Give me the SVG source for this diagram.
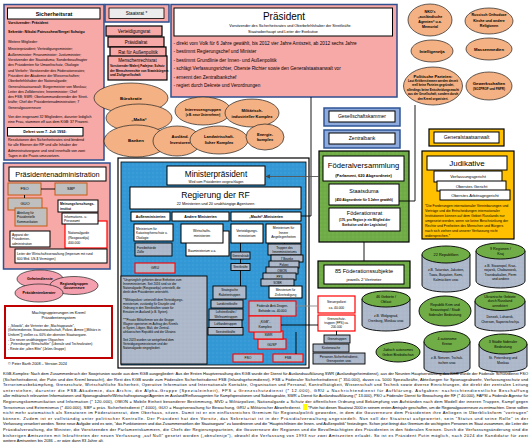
<svg xmlns="http://www.w3.org/2000/svg" width="532" height="445" viewBox="0 0 532 445">
<defs>
<pattern id="pBlue" width="4" height="4" patternUnits="userSpaceOnUse"><rect width="4" height="4" fill="#3399d6"/><circle cx="1" cy="1" r="0.45" fill="#70bbea"/><circle cx="3" cy="3" r="0.4" fill="#2a86c2"/></pattern>
<pattern id="pGreen" width="4" height="4" patternUnits="userSpaceOnUse"><rect width="4" height="4" fill="#70ad47"/><circle cx="1" cy="1" r="0.45" fill="#92c870"/><circle cx="3" cy="3" r="0.4" fill="#5c9638"/></pattern>
<pattern id="pGray" width="4" height="4" patternUnits="userSpaceOnUse"><rect width="4" height="4" fill="#adb9ca"/><circle cx="1" cy="1" r="0.4" fill="#c9d1de"/><circle cx="3" cy="3" r="0.35" fill="#95a2b6"/></pattern>
<marker id="arr" viewBox="0 0 6 6" refX="5.5" refY="3" markerWidth="5" markerHeight="5" orient="auto"><path d="M0,0 L6,3 L0,6 z" fill="#444"/></marker>
</defs>
<style>
text{font-family:"Liberation Sans",Arial,sans-serif;fill:#000}
.c{text-anchor:middle}
.b{font-weight:bold}
.pk{fill:#f7a9a8;stroke:#2f4f8f;stroke-width:1.5}
.pb{fill:#f7a9a8;stroke:#000;stroke-width:1.2}
.w{fill:#fff;stroke:#000;stroke-width:1}
.ov{fill:#f4b183;stroke:#222;stroke-width:0.7}
.po{fill:#f4a0ae;stroke:#222;stroke-width:0.7}
.g{fill:url(#pGray);stroke:#000;stroke-width:0.9}
.r{fill:url(#pGray);stroke:#f00;stroke-width:1.1}
.rw{fill:#fff;stroke:#f00;stroke-width:1.2}
.gr{fill:url(#pGreen);stroke:#000;stroke-width:1.2}
.bl{fill:#8faadc;stroke:#2f5597;stroke-width:1.5}
.or{fill:#ffc000;stroke:#000;stroke-width:1.2}
.og{fill:#bfbfbf;stroke:#c55a11;stroke-width:1}
.ln{fill:none;stroke:#000;stroke-width:0.9}
.red{fill:#ee0000}
.cyl{fill:url(#pGray);stroke:#000;stroke-width:0.9}
.cyt{fill:#70ad47;stroke:#000;stroke-width:0.9}
</style>
<rect width="532" height="445" fill="#fff"/>

<!-- Sicherheitsrat -->
<g id="sicherheitsrat">
<rect class="pk" x="4" y="4.5" width="100" height="155.5"/>
<rect class="w" x="7.5" y="8" width="92.5" height="11"/>
<text class="c b" x="54" y="15.8" font-size="5.5">Sicherheitsrat</text>
<g font-size="3.6">
<text class="b" x="8" y="24.4">Vorsitzender: Präsident</text>
<text class="b" x="8" y="33.4">Sekretär: Nikolai Patruschew/Sergei Schoigu</text>
<text x="8" y="43.2">Weitere Mitglieder:</text>
<text x="8" y="50.4">Ministerpräsident; Verteidigungsminister;</text>
<text x="8" y="55.7">Außenminister; Finanzminister; Justizminister;</text>
<text x="8" y="61">Vorsitzender der Staatsduma; Sonderbeauftragter</text>
<text x="8" y="66.3">des Präsidenten für Umweltschutz, Ökologie</text>
<text x="8" y="71.6">und Verkehr; Vorsitzender des Föderationsrates;</text>
<text x="8" y="76.9">Präsident der Akademie der Wissenschaften;</text>
<text x="8" y="82.2">Oberbefehlshaber der Nationalgarde;</text>
<text x="8" y="87.5">Generalstaatsanwalt; Bürgermeister von Moskau;</text>
<text x="8" y="92.8">Leiter des Zolldienstes; Innenminister; Chef</text>
<text x="8" y="98.1">des FSB; SWR; Oberkommandierender der Streit-</text>
<text x="8" y="103.4">kräfte; Chef der Präsidentenadministration; 7</text>
<text x="8" y="108.7">Generalgouverneure</text>
<text x="8" y="118.4">Von den insgesamt 32 Mitgliedern, darunter lediglich</text>
<text x="8" y="123.4">eine Frau, stammen elf aus dem KGB: 37 Prozent.</text>
</g>
<rect class="w" x="7.5" y="127.5" width="75.5" height="8.5"/>
<text class="c b" x="45" y="133.3" font-size="3.8">Dekret vom 7. Juli 1992:</text>
<g font-size="3.6">
<text x="8" y="141.2">Resolutionen des Sicherheitsrates sind bindend</text>
<text x="8" y="146.2">für alle Ebenen der RF und alle Inhaber der</text>
<text x="8" y="152">Administrativorgane und sind innerhalb von zwei</text>
<text x="8" y="157">Tagen in die Praxis umzusetzen.</text>
</g>
</g>

<!-- Staatsrat column -->
<g id="staatsrat">
<rect class="pk" x="105" y="4.5" width="64" height="17.5"/>
<rect x="109" y="8" width="55" height="10.5" fill="#ececec" stroke="#000" stroke-width="0.8"/>
<text class="c" x="136.5" y="15.2" font-size="4.6">Staatsrat *</text>
</g>
<g id="verteidigungsrat">
<rect class="pb" x="106" y="26" width="56" height="10"/>
<text class="c" x="134" y="32.6" font-size="4.5">Verteidigungsrat</text>
</g>
<g id="praesidialrat">
<rect class="pb" x="108" y="37" width="56" height="10"/>
<text class="c" x="136" y="43.6" font-size="4.5">Präsidialrat</text>
</g>
<g id="rat-aussenpolitik">
<rect class="pb" x="110" y="47" width="56" height="10"/>
<text class="c" x="138" y="53.6" font-size="4.5">Rat für Außenpolitik</text>
</g>
<g id="menschenrechtsrat">
<rect class="pb" x="108" y="56" width="59" height="24"/>
<text class="c" x="137.5" y="61.5" font-size="4.5">Menschenrechtsrat</text>
<text x="110" y="66.8" font-size="3.1" class="b">Vorsitzender Walerij Fadejew; Schutz</text>
<text x="110" y="71.6" font-size="3.1" class="b">der Menschenrechte von Staatsbürgern</text>
<text x="110" y="76.4" font-size="3.1" class="b">und Zivilgesellschaft</text>
</g>

<!-- Präsident -->
<g id="praesident">
<rect class="pk" x="171" y="4.5" width="226" height="92.5"/>
<rect class="w" x="174" y="8" width="218.5" height="28"/>
<text class="c" x="284" y="20" font-size="10">Präsident</text>
<text class="c" x="290" y="26.5" font-size="3.8">Vorsitzender des Sicherheitsrates und Oberbefehlshaber der Streitkräfte</text>
<text class="c" x="283" y="33" font-size="3.8">Staatsoberhaupt und Leiter der Exekutive</text>
<g font-size="4.7">
<text x="173.5" y="44.5">- direkt vom Volk für 6 Jahre gewählt, bis 2012 vier Jahre Amtszeit, ab 2012 sechs Jahre</text>
<text x="173.5" y="53">- bestimmt Regierungschef und Minister</text>
<text x="173.5" y="61.5">- bestimmt Grundlinie der Innen- und Außenpolitik</text>
<text x="173.5" y="70">- schlägt Verfassungsrichter, Oberste Richter sowie den Generalstaatsanwalt vor</text>
<text x="173.5" y="78.5">- ernennt den Zentralbankchef</text>
<text x="173.5" y="87">- regiert durch Dekrete und Verordnungen</text>
</g>
</g>

<!-- Right top ovals -->
<g id="nko"><ellipse class="ov" cx="430" cy="20" rx="22" ry="16"/>
<g font-size="3.6" class="b"><text class="c" x="430" y="12.5">NKO's</text><text class="c" x="430" y="17.8">„ausländische</text><text class="c" x="430" y="23.1">Agenten“ u.a.</text><text class="c" x="430" y="28.4">Memorial</text></g></g>
<g id="kirche"><ellipse class="ov" cx="489" cy="21" rx="24" ry="13"/>
<g font-size="3.6" class="b"><text class="c" x="489" y="16.4">Russisch Orthodoxe</text><text class="c" x="489" y="21.7">Kirche und andere</text><text class="c" x="489" y="27">Religionen</text></g></g>
<g id="intelligenzija"><ellipse class="ov" cx="432" cy="51" rx="21" ry="11"/>
<text class="c b" x="432" y="52.5" font-size="4.2">Intelligenzija</text></g>
<g id="massenmedien"><ellipse class="ov" cx="489" cy="49" rx="23" ry="11"/>
<text class="c b" x="489" y="50.5" font-size="4.2">Massenmedien</text></g>
<g id="parteien"><ellipse class="ov" cx="433" cy="86" rx="29.5" ry="19"/>
<text class="c b" x="433" y="77.5" font-size="4.2">Politische Parteien:</text>
<g font-size="2.9" class="b"><text class="c" x="433" y="82">Laut Kritikerstimmen werden derzeit</text><text class="c" x="433" y="86.4">reell keine Parteien gegründet,</text><text class="c" x="433" y="90.8">allerdings keine Entscheidungsmacht</text><text class="c" x="433" y="95.2">aus der Gesellschaft, sondern durch</text><text class="c" x="433" y="99.6">den Kreml organisiert.</text></g></g>
<g id="gewerkschaften"><ellipse class="ov" cx="489" cy="86" rx="23" ry="14"/>
<text class="c b" x="489" y="84.5" font-size="4.2">Gewerkschaften</text>
<text class="c b" x="489" y="90" font-size="3">(SOZPROF und FNPR)</text></g>

<!-- Einfluss ovals -->
<g id="buerokratie"><ellipse class="ov" cx="131" cy="98" rx="37" ry="15"/>
<text class="c b" x="131" y="99.5" font-size="4.4">Bürokratie</text></g>
<g id="interessengruppen"><ellipse class="ov" cx="203" cy="111" rx="28" ry="14"/>
<text class="c b" x="203" y="111" font-size="4">Interessengruppen</text>
<text class="c b" x="203" y="116" font-size="3">(z.B. neue Unternehmer)</text></g>
<g id="militaer"><ellipse class="ov" cx="252" cy="113" rx="27" ry="14"/>
<text class="c b" x="252" y="112" font-size="4">Militärisch-</text>
<text class="c b" x="252" y="117.5" font-size="4">industrieller Komplex</text></g>
<g id="mafia"><ellipse class="ov" cx="139" cy="118" rx="33" ry="14"/>
<text class="c b" x="139" y="121" font-size="4.4">„Mafia“</text></g>
<g id="banken"><ellipse class="ov" cx="136" cy="141" rx="32" ry="16"/>
<text class="c b" x="136" y="141.5" font-size="4.4">Banken</text></g>
<g id="investoren"><ellipse class="ov" cx="177" cy="141" rx="24" ry="15"/>
<text class="c b" x="180" y="138" font-size="4">Ausländ.</text>
<text class="c b" x="180" y="143.5" font-size="4">Investoren</text></g>
<g id="landwirtschaft"><ellipse class="ov" cx="219" cy="140" rx="29" ry="14"/>
<text class="c b" x="219" y="138" font-size="4">Landwirtschaft-</text>
<text class="c b" x="219" y="143.5" font-size="4">licher Komplex</text></g>
<g id="energie"><ellipse class="ov" cx="265" cy="137" rx="19" ry="13"/>
<text class="c b" x="265" y="135.5" font-size="4">Energie-</text>
<text class="c b" x="265" y="141" font-size="4">komplex</text></g>

<!-- Gesellschaftskammer / Zentralbank -->
<g id="gesellschaftskammer">
<rect class="bl" x="324" y="108" width="76" height="18"/>
<rect class="w" x="329" y="111" width="66" height="11"/>
<text class="c" x="362" y="118.3" font-size="5">Gesellschaftskammer</text>
</g>
<g id="zentralbank">
<rect class="bl" x="324" y="130" width="76" height="18"/>
<rect class="w" x="329" y="133" width="66" height="11"/>
<text class="c" x="362" y="140.3" font-size="5">Zentralbank</text>
</g>

<!-- Generalstaatsanwalt / Judikative -->
<g id="generalstaatsanwalt">
<rect class="or" x="429" y="129" width="75" height="17"/>
<rect class="w" x="434" y="132" width="65" height="11"/>
<text class="c" x="466.5" y="139.3" font-size="5">Generalstaatsanwalt</text>
</g>
<g id="judikative">
<rect class="or" x="422" y="151" width="92" height="88"/>
<rect class="w" x="427" y="156" width="80" height="14"/>
<text class="c" x="467" y="166" font-size="8">Judikative</text>
<rect class="w" x="434" y="171" width="68" height="11"/>
<text class="c" x="468" y="178.2" font-size="4.2">Verfassungsgericht</text>
<rect class="w" x="437" y="181" width="69" height="10"/>
<text class="c" x="471.5" y="187.8" font-size="4.2">Oberstes Gericht</text>
<rect class="w" x="440" y="190" width="70" height="10"/>
<text class="c" x="475" y="196.8" font-size="4.2">Oberstes Arbitragegericht</text>
<g font-size="3.5" class="red">
<text x="425" y="207">*Die Forderungen internationaler Vereinbarungen und</text>
<text x="425" y="212">Verträge und die Entscheidungen internationaler</text>
<text x="425" y="217">Institutionen können auf dem Gebiet Russlands nur</text>
<text x="425" y="222">umgesetzt werden, wenn sie keine Beschränkung der</text>
<text x="425" y="227">Rechte und Freiheiten des Menschen und Bürgers</text>
<text x="425" y="232">nach sich ziehen und unserer Verfassung nicht</text>
<text x="425" y="237">widersprechen.*</text>
</g>
</g>

<!-- Föderalversammlung -->
<g id="foederalversammlung">
<rect class="gr" x="319" y="151" width="90" height="91"/>
<rect class="w" x="323" y="156" width="81" height="25"/>
<text class="c" x="363.5" y="167.5" font-size="7.6">Föderalversammlung</text>
<text class="c b" x="363.5" y="176.5" font-size="4">(Parlament, 620 Abgeordnete)</text>
</g>
<g id="staatsduma">
<rect class="w" x="329" y="184" width="70" height="21"/>
<text class="c" x="364" y="192.5" font-size="5.5">Staatsduma</text>
<text class="c b" x="364" y="200.5" font-size="3.2">(450 Abgeordnete für 5 Jahre gewählt)</text>
</g>
<g id="foederationsrat">
<rect class="w" x="329" y="208" width="71" height="23"/>
<text class="c" x="364.5" y="215" font-size="5.5">Föderationsrat</text>
<text class="c b" x="364.5" y="221" font-size="3.1">(170, pro Region je ein Mitglied der</text>
<text class="c b" x="364.5" y="225.5" font-size="3.1">Exekutive und der Legislative)</text>
</g>
<g id="foederationssubjekte">
<rect class="gr" x="318" y="261" width="92" height="27"/>
<rect class="w" x="324" y="265" width="80" height="19"/>
<text class="c" x="364" y="273" font-size="5.6">85 Föderationssubjekte</text>
<text class="c" x="364" y="280.5" font-size="4.4">jeweils 2 Vertreter</text>
</g>

<!-- Cylinders -->
<g id="republiken">
<path class="cyl" d="M422,254.5 L422,285 A24,7 0 0 0 470,285 L470,254.5 Z"/>
<ellipse class="cyt" cx="446" cy="254.5" rx="24" ry="8.5"/>
<text class="c" x="446" y="256" font-size="3.9">22 Republiken</text>
<g font-size="3.4"><text class="c" x="446" y="271">z.B. Tatarstan, Jakutien,</text><text class="c" x="446" y="276">Tuwa, Burjatien, Komi,</text><text class="c" x="446" y="281">Kalmückien usw.</text></g>
</g>
<g id="regionen">
<path class="cyl" d="M476,251 L476,281 A24.5,7 0 0 0 525,281 L525,251 Z"/>
<ellipse class="cyt" cx="500.5" cy="251" rx="24.5" ry="8"/>
<text class="c" x="500.5" y="249.5" font-size="3.7">9 Regionen /</text>
<text class="c" x="500.5" y="254.5" font-size="3.7">Kraj</text>
<g font-size="3.4"><text class="c" x="500.5" y="266.5">z.B. Stawropol, Kras-</text><text class="c" x="500.5" y="271">nojarsk, Chabarowsk,</text><text class="c" x="500.5" y="275.5">Transbaikalien, Perm</text><text class="c" x="500.5" y="280">und andere</text></g>
</g>
<g id="gebiete">
<path class="cyl" d="M362,299 L362,325 A24,6 0 0 0 410,325 L410,299 Z"/>
<ellipse class="cyt" cx="386" cy="299" rx="24" ry="8"/>
<text class="c" x="386" y="297.5" font-size="3.7">46 Gebiete /</text>
<text class="c" x="386" y="302.5" font-size="3.7">Oblast</text>
<g font-size="3.4"><text class="c" x="386" y="317">z.B. Wolgograd,</text><text class="c" x="386" y="322">Orenburg, Moskau usw.</text></g>
</g>
<g id="krim">
<ellipse class="cyt" cx="445" cy="311" rx="26" ry="15"/>
<g font-size="3.6"><text class="c" x="445" y="305.5">Republik Krim und</text><text class="c" x="445" y="310.5">Sewastopol / Stadt</text><text class="c" x="445" y="315.5">föderaler Bedeutung</text></g>
</g>
<g id="ukraine-gebiete">
<path class="cyl" d="M475,301 L475,325 A25,6 0 0 0 525,325 L525,301 Z"/>
<ellipse class="cyt" cx="500" cy="301" rx="25" ry="9.5"/>
<g font-size="3.5"><text class="c" x="500" y="297.5">Ukrainische Gebiete</text><text class="c" x="500" y="302.3">durch Russland</text><text class="c" x="500" y="307.1">annektiert</text></g>
<g font-size="3.4"><text class="c" x="500" y="317.5">Donezk, Luhansk,</text><text class="c" x="500" y="322.5">Cherson, Saporischschja</text></g>
</g>
<g id="juedisch">
<ellipse class="cyt" cx="398" cy="352" rx="22" ry="10"/>
<g font-size="3.5"><text class="c" x="398" y="350.5">Jüdisch autonomes</text><text class="c" x="398" y="355.5">Gebiet Birobidschan</text></g>
</g>
<g id="autonome-kreise">
<path class="cyl" d="M424,341.5 L424,368 A23,6 0 0 0 470,368 L470,341.5 Z"/>
<ellipse class="cyt" cx="447" cy="341.5" rx="23" ry="10.5"/>
<g font-size="3.6"><text class="c" x="447" y="340">4 autonome</text><text class="c" x="447" y="345">Kreise</text></g>
<g font-size="3.4"><text class="c" x="447" y="359">z.B. Nenzen, Tschuk-</text><text class="c" x="447" y="364">tschen usw.</text></g>
</g>
<g id="staedte">
<path class="cyl" d="M479,344 L479,366 A24,6 0 0 0 527,366 L527,344 Z"/>
<ellipse class="cyt" cx="503" cy="344" rx="24" ry="10"/>
<g font-size="3.6"><text class="c" x="503" y="342.5">3 Städte föderaler</text><text class="c" x="503" y="347.5">Bedeutung</text></g>
<g font-size="3.4"><text class="c" x="503" y="359">St. Petersburg und</text><text class="c" x="503" y="364">Moskau</text></g>
</g>

<!-- Regierung frame -->
<g id="regierung">
<rect x="118" y="158" width="191" height="210" fill="#fff" stroke="#000" stroke-width="1.2"/>
<rect x="121" y="162" width="185" height="203" fill="url(#pBlue)" stroke="#000" stroke-width="0.8"/>
</g>
<g id="ministerpraesident">
<rect class="w" x="167" y="166" width="98" height="19" stroke-width="1.2"/>
<text class="c" x="216" y="176.5" font-size="8.2">Ministerpräsident</text>
<text class="c" x="216" y="182.5" font-size="3.3">Wird vom Präsidenten vorgeschlagen</text>
</g>
<g id="regierung-rf">
<rect class="w" x="130" y="187" width="171" height="22" stroke-width="1.2"/>
<text class="c" x="215.5" y="198" font-size="8.6">Regierung der RF</text>
<text class="c" x="215.5" y="205" font-size="3.8">22 Ministerien und 20 unabhängige Agenturen</text>
</g>
<g id="aussenministerien"><rect class="w" x="131" y="212" width="39" height="9"/><text class="c b" x="150.5" y="218" font-size="3.5">Außenministerien</text></g>
<g id="andere-ministerien"><rect class="w" x="172" y="212" width="57" height="9"/><text class="c b" x="200.5" y="218" font-size="3.6">Andere Ministerien</text></g>
<g id="macht-ministerien"><rect class="w" x="231" y="212" width="70" height="9"/><text class="c b" x="266" y="218" font-size="3.6">„Macht“-Ministerien</text></g>

<g id="ministerium-katastrophen"><rect class="w" x="134" y="224" width="39" height="17"/>
<g font-size="3.2"><text x="136" y="229.5">Ministerium für</text><text x="136" y="234">Katastrophenschutz u.</text><text x="136" y="238.5">Ökologie</text></g></g>
<g id="forst"><rect class="g" x="135" y="243" width="37" height="13"/>
<g font-size="3.2"><text x="137" y="248.5">Forstbehörde</text><text x="137" y="253">Zölle</text></g></g>
<g id="gru"><rect class="r" x="135" y="263" width="40" height="10"/><text class="c" x="155" y="269.4" font-size="3.6">GRU</text></g>

<g id="info-box">
<rect class="g" x="121" y="276" width="86" height="88"/>
<g font-size="3">
<text x="123" y="281">*Ursprünglich gehörten diese Einheiten zum</text>
<text x="123" y="285">Innenministerium. Seit 2016 sind sie der</text>
<text x="123" y="289">Nationalgarde (Rosgwardija) unterstellt, die</text>
<text x="123" y="293">direkt dem Präsidenten untersteht.</text>
<text x="123" y="301">**Militärpolizei: unterstellt dem Verteidigungs-</text>
<text x="123" y="305">ministerium, zuständig für Disziplin und</text>
<text x="123" y="309">Ordnung in den Streitkräften sowie für</text>
<text x="123" y="313">Einsätze im Ausland (z.B. Syrien).</text>
<text x="123" y="321">***Private Militärfirmen wie die Gruppe</text>
<text x="123" y="325">Wagner operierten im Auftrag des Kremls</text>
<text x="123" y="329">in Syrien, Libyen, Mali, der Zentral-</text>
<text x="123" y="333">afrikanischen Republik und der Ukraine.</text>
<text x="123" y="341">Seit 2023 wurden sie weitgehend dem</text>
<text x="123" y="345">Verteidigungsministerium und der</text>
<text x="123" y="349">Nationalgarde eingegliedert.</text>
</g>
</g>

<g id="wirtschaftsministerien">
<rect class="w" x="186" y="231" width="43" height="25"/>
<text x="188" y="251.5" font-size="3.2">Bauministerium u.a.</text>
<rect class="w" x="181" y="224" width="42" height="19"/>
<text class="c" x="202" y="231.5" font-size="3.4">Wirtschafts-</text>
<text class="c" x="202" y="236.5" font-size="3.4">ministerien</text>
</g>
<g id="verteidigungsministerium"><rect class="w" x="231" y="224" width="32" height="19"/>
<text class="c" x="247" y="231.5" font-size="3.4">Verteidigungs-</text><text class="c" x="247" y="236.5" font-size="3.4">ministerium</text></g>
<g id="innenministerium"><rect class="w" x="266" y="224" width="35" height="19"/>
<g font-size="3.3"><text class="c" x="283.5" y="229">Ministerium für</text><text class="c" x="283.5" y="233.5">Innere</text><text class="c" x="283.5" y="238">Angelegenheiten</text></g></g>
<g id="generalstab"><rect class="g" x="231" y="252" width="19" height="7"/><text class="c" x="240.5" y="256.9" font-size="3">Generalstab</text></g>
<g id="streitkraefte"><rect class="g" x="231" y="263.5" width="19" height="7"/><text class="c" x="240.5" y="268.4" font-size="3">Streitkräfte</text></g>

<g id="truppen-innen"><rect class="g" x="268" y="244" width="33" height="11"/>
<text class="c" x="284.5" y="248.5" font-size="3">Truppen des</text><text class="c" x="284.5" y="252.5" font-size="3">Innenministeriums</text></g>
<g id="bezirke"><rect class="g" x="271" y="255" width="32" height="7"/><text class="c" x="287" y="259.9" font-size="3">7 Bezirke</text></g>
<g id="polizei"><rect class="g" x="269" y="261" width="30" height="7"/><text class="c" x="284" y="265.9" font-size="3">Polizei</text></g>
<g id="omon"><rect class="g" x="266" y="267" width="32" height="7"/><text class="c" x="282" y="271.9" font-size="3">OMON</text></g>
<g id="pps"><rect class="g" x="263" y="273" width="33" height="7"/><text class="c" x="279.5" y="277.9" font-size="3">PPS</text></g>
<g id="sobr"><rect class="g" x="261" y="279" width="33" height="7"/><text class="c" x="277.5" y="283.9" font-size="3">SOBR</text></g>
<g id="zivilverteidigung"><rect class="w" x="269" y="286" width="33" height="12"/>
<text class="c" x="285.5" y="291" font-size="3">Ministerium für</text><text class="c" x="285.5" y="295.5" font-size="3">Zivilverteidigung</text></g>

<g id="raketentruppen"><rect class="g" x="213" y="286" width="33" height="13"/>
<text class="c" x="229.5" y="291.3" font-size="3">Strategische</text><text class="c" x="229.5" y="295.8" font-size="3">Raketentruppen</text></g>
<g id="landstreitkraefte"><rect class="g" x="211" y="300" width="32" height="8"/><text class="c" x="227" y="305.2" font-size="3">Landstreitkräfte</text></g>
<g id="luftstreitkraefte"><rect class="g" x="209" y="309" width="34" height="11"/>
<text class="c" x="226" y="313.4" font-size="3">Luftstreitkräfte /</text><text class="c" x="226" y="317.6" font-size="3">Weltraumtruppen</text></g>
<g id="luftlandetruppen"><rect class="g" x="209" y="320" width="33" height="7.5"/><text class="c" x="225.5" y="325" font-size="3">Luftlandetruppen</text></g>
<g id="seestreitkraefte"><rect class="g" x="208" y="327.5" width="35" height="7.5"/><text class="c" x="225.5" y="332.5" font-size="3">Seestreitkräfte</text></g>

<g id="anti-drogen"><rect class="r" x="249" y="301" width="47" height="15"/>
<text class="c" x="272.5" y="307.3" font-size="3.2">Föderale Anti-Drogen-</text><text class="c" x="272.5" y="312" font-size="3.2">Behörde ca. 40.000</text></g>
<g id="gusp"><rect class="r" x="258" y="339" width="28" height="10"/><text class="c" x="272" y="345.5" font-size="3.4">GUSP</text></g>
<g id="swr"><rect class="r" x="254" y="331" width="29" height="8"/><text class="c" x="268.5" y="336.3" font-size="3.4">SWR</text></g>
<g id="kgb"><rect class="r" x="249" y="316" width="32" height="16"/>
<text class="c" x="265" y="322.5" font-size="3.4">„KGB“-</text><text class="c" x="265" y="328" font-size="3.4">Komplex</text></g>
<g id="fso"><rect class="r" x="233" y="354" width="30" height="8"/><text class="c" x="248" y="359.3" font-size="3.4">FSO</text></g>
<g id="fsb"><rect class="r" x="273" y="354" width="30" height="8"/><text class="c" x="288" y="359.3" font-size="3.4">FSB</text></g>

<!-- outside red boxes -->
<g id="steuerpolizei"><rect class="rw" x="318" y="296" width="37" height="17"/>
<text class="c" x="336.5" y="303" font-size="3.3">Steuerpolizei</text><text class="c" x="336.5" y="308.5" font-size="3.3">ca. 40.000</text></g>
<g id="grenzschutz"><rect class="rw" x="318" y="315" width="37" height="16"/>
<text class="c" x="336.5" y="320" font-size="3.1">Grenzschutz-</text><text class="c" x="336.5" y="324.2" font-size="3.1">truppen (FPS) ca.</text><text class="c" x="336.5" y="328.4" font-size="3.1">200.000</text></g>
<g id="grenztruppen"><rect class="g" x="324" y="335" width="26" height="8"/><text class="c" x="337" y="340.2" font-size="3.1">Grenztruppen</text></g>
<g id="kuestenwache"><rect class="g" x="313" y="344" width="36" height="8"/><text class="c" x="331" y="349.2" font-size="3.1">Küstenwache</text></g>
<g id="personenschutz"><rect class="g" x="313" y="353" width="52" height="11"/>
<text class="c" x="339" y="357.5" font-size="3.1">Personen-Sicherheitsdienst,</text><text class="c" x="339" y="361.8" font-size="3.1">Grenzposten usw.</text></g>

<!-- Präsidentenadministration -->
<g id="praesidentenadministration">
<rect class="pk" x="3.5" y="163" width="106.5" height="106"/>
<rect class="w" x="9" y="167" width="97" height="14"/>
<text class="c" x="57.5" y="177.3" font-size="7.3">Präsidentenadministration</text>
</g>
<g id="pa-fso"><rect class="og" x="8" y="183" width="33" height="12"/><text class="c" x="24.5" y="190.4" font-size="4">FSO</text></g>
<g id="pa-sbp"><rect class="og" x="55" y="183" width="32" height="12"/><text class="c" x="71" y="190.4" font-size="4">SBP</text></g>
<g id="pa-guo"><rect class="og" x="8" y="198" width="34" height="12"/><text class="c" x="25" y="205.4" font-size="4">GUO</text></g>
<g id="pa-kommunikation"><rect class="og" x="15" y="208" width="32" height="18"/>
<g font-size="3"><text x="17" y="214">Abteilung für</text><text x="17" y="218.3">Präsidentielle</text><text x="17" y="222.6">Kommunikation</text></g></g>
<g id="pa-meinung"><rect class="w" x="58" y="200" width="40" height="12"/>
<text x="60" y="205" font-size="3.3" class="b">Meinungsforschungs-</text><text x="60" y="209.5" font-size="3.3" class="b">institut</text></g>
<g id="pa-nationalgarde"><rect class="rw" x="65" y="221" width="42" height="27"/>
<g font-size="3.4"><text x="68" y="234">Nationalgarde</text><text x="68" y="238.8">(Rosgwardija)</text><text x="68" y="243.6">400.000</text></g></g>
<g id="pa-presse"><rect class="w" x="62" y="213" width="36" height="11"/>
<text x="64" y="217.8" font-size="3.3">Informations- u.</text><text x="64" y="222" font-size="3.3">Presseamt</text></g>
<g id="pa-apparat"><rect class="w" x="10" y="231" width="40" height="16"/>
<g font-size="3.2"><text x="12" y="236">Apparat der</text><text x="12" y="240.4">Präsidenten-</text><text x="12" y="244.8">administration</text></g></g>
<g id="pa-wirtschaft"><rect class="w" x="15" y="249" width="92" height="14"/>
<text x="17" y="254.8" font-size="3.3">Leiter der Wirtschaftsverwaltung (Imperium mit rund</text>
<text x="17" y="259.8" font-size="3.3">600 Mrd. US-$ Vermögen)</text></g>

<!-- pink ovals -->
<g id="ov-geheimdienst"><ellipse class="po" cx="40" cy="279" rx="23" ry="9"/><text class="c b" x="40" y="280.3" font-size="3.6">Geheimdienste</text></g>
<g id="ov-gouverneure"><ellipse class="po" cx="74" cy="285.5" rx="24" ry="9"/>
<text class="c b" x="74" y="284.5" font-size="3.4">Regionalgruppen</text><text class="c b" x="74" y="289" font-size="3.4">Gouverneure</text></g>
<g id="ov-berater"><ellipse class="po" cx="39" cy="293" rx="24" ry="9"/><text class="c b" x="39" y="294.3" font-size="3.6">Präsidentenberater</text></g>

<!-- Machtgruppierungen -->
<g id="machtgruppierungen">
<rect x="5" y="306" width="107" height="52" fill="#fff" stroke="#c00000" stroke-width="2"/>
<text class="c" x="58.5" y="313.5" font-size="4">Machtgruppierungen im Kreml</text>
<text class="c" x="58.5" y="319" font-size="4">Präsidentensystem</text>
<g font-size="3.3">
<text x="8" y="326.5">- „Silowiki“, die Vertreter der „Machtapparate“,</text>
<text x="8" y="331">(Geheimdienste, Staatsanwaltschaft, Polizei, Armee [„Militärs in</text>
<text x="8" y="335.5">Uniform“]) stellen ca. 60% der obersten Staatsorgane.</text>
<text x="8" y="340.5">- Die neuen unabhängigen Oligarchen</text>
<text x="8" y="345">- „Petersburger Wirtschaftler“ (Liberale und Technokraten)</text>
<text x="8" y="349.5">- Reste der „alten Elite“ (Jelzin-Gruppe)</text>
</g>
</g>
<text x="8" y="364.5" font-size="3.8">© Peter Barth 2008 – Version 2024</text>

<!-- connectors -->
<g id="connectors" class="ln">
<path d="M311,97 V216 H301"/>
<path d="M415,105 V201 H399"/>
<path d="M364,242 V261"/>
<path d="M41,189 H55"/>
<path d="M24.5,195 V198"/>
<path d="M240.5,243 V252"/>
<path d="M240.5,259 V263.5"/>
<path d="M240.5,270.5 V286"/>
<path d="M284.5,243 V244"/>
<path d="M281,325 H318"/>
<path d="M296,332 V354"/>
<path d="M336.5,331 V335"/>
<path d="M296,306 H318" stroke="#888"/>
<path d="M319,176.5 H266" stroke="#555" marker-end="url(#arr)"/>
</g>

<!-- bottom text -->
<g id="fussnoten" font-size="4">
<text x="3" y="375" textLength="525" lengthAdjust="spacing">KGB-Komplex: Nach dem Zusammenbruch der Sowjetunion wurde aus dem KGB ausgegliedert: Aus der Ersten Hauptverwaltung des KGB wurde der Dienst für Auslandsaufklärung SWR (Auslandsgeheimdienst), aus der Neunten Hauptverwaltung des KGB wurde der Föderale Schutzdienst FSO</text>
<text x="3" y="380.6" textLength="525" lengthAdjust="spacing">(Sicherheitsdienst, der Putin und den Kreml bewacht), der Rest des KGB wurde zum Föderalen Sicherheitsdienst FSB (Inlandsgeheimdienst). FSB = Föderaler Sicherheitsdienst (* 350.000), davon ca. 5000 Spezialkräfte, Abteilungen für Spionageabwehr, Verfassungsschutz und</text>
<text x="3" y="386.2" textLength="525" lengthAdjust="spacing">Terrorismusbekämpfung, Grenzschutz, Wirtschaftliche Sicherheit, Operative Information und Internationale Kontakte, Organisation und Personal, Kontrolltätigkeit, Wissenschaft und Technik sowie diverse Einrichtungen, die direkt der zentralen Leitung</text>
<text x="3" y="391.8" textLength="525" lengthAdjust="spacing">unterstehen, darunter die FSB-Akademie, das Archiv, die Alpha-Gruppe (Spezialeinheit), FPS = Grenzschutzdienst (* 12.000), GRU = Nachrichtendienst für Aufklärung. Aufgaben: nachrichtendienstliche Beschaffung</text>
<text x="3" y="397.4" textLength="525" lengthAdjust="spacing">aller militärisch relevanten Informationen und Spionageabwehr/Wirtschaftsspionage/Agenten im Ausland/Einflussagenten für Kampfoperationen und Sabotageakte, SWR = Dienst für Auslandsaufklärung (* 13.000), PSO = Föderaler Dienst für Bewachung der RF (* 40.000), FAPSI = Föderale Agentur für</text>
<text x="3" y="403" textLength="525" lengthAdjust="spacing">Regierungskommunikation und Information (* 120.000), OMON = Mobile Einheit besonderer Bestimmung, MVD = Militärpolizei, Nationalgarde = Schutz der öffentlichen Ordnung und Bekämpfung von Aufständen nach dem Modell der inneren Truppen, Kampf gegen</text>
<text x="3" y="408.6" textLength="298" lengthAdjust="spacing">Terrorismus und Extremismus (* 400.000), SBP = präs. Sicherheitsdienst (* 4000), GUO = Hauptverwaltung für Bewachung, GRU = Militärischer Abwehrdienst.</text>
<rect x="303" y="404" width="4" height="6" fill="#ffff00"/>
<g class="red">
<text x="308" y="408.6" textLength="220" lengthAdjust="spacing">*Putin hat diesen Staatsrat 2000 in seinem ersten Amtsjahr geschaffen, um die Regionalgouverneure zu entmachten. Diese sollten</text>
<text x="3" y="414.2" textLength="525" lengthAdjust="spacing">nicht mehr automatisch als Senatoren im Föderationsrat, dem Oberhaus, sitzen. Damit ist er ein einflussreiches Gremium für Regionalpolitik geworden, in dem die Gouverneure dem Präsidenten ihre Anliegen in Überblicksform "vortragen"</text>
<text x="3" y="419.8" textLength="525" lengthAdjust="spacing">können. Zudem ist er vollständig unter politischer Kontrolle. Der Präsident hat den Vorsitz, das Sekretariat ist in der Präsidialverwaltung angesiedelt. Nun soll der Staatsrat aufgewertet, sein "Status und seine Rolle" in der</text>
<text x="3" y="425.4" textLength="525" lengthAdjust="spacing">Verfassung verankert werden. Seine neue Aufgabe wird es sein, "das Funktionieren und das Zusammenwirken der Staatsorgane" zu koordinieren und die "Hauptrichtlinien der Innen- und Außenpolitik" festzulegen. Schon jetzt bringt das Gremium die wichtigsten Personen im Staat zusammen, die Leiter der</text>
<text x="3" y="431" textLength="525" lengthAdjust="spacing">Präsidialverwaltung, die Minister, die Vorsitzenden der Parlamentskammern, die Chefs der Regierungsparteien, die Gouverneure der Regionen und die Bevollmächtigten des Präsidenten in den föderalen Kreisen. Durch die Verfassungsänderung sind die</text>
<text x="3" y="436.6" textLength="525" lengthAdjust="spacing">bisherigen Amtszeiten mit Inkrafttreten der neuen Verfassung „auf Null“ gesetzt worden („obnulenije“), obwohl die Verfassung von 1993 nur zwei Amtszeiten erlaubt. So ist es Präsident Putin möglich, nach 2024 die Kandidatur für zwei</text>
<text x="3" y="442.2">weitere Amtszeiten bis 2036 – er wäre dann 83 Jahre alt.</text>
</g>
</g>
</svg>
